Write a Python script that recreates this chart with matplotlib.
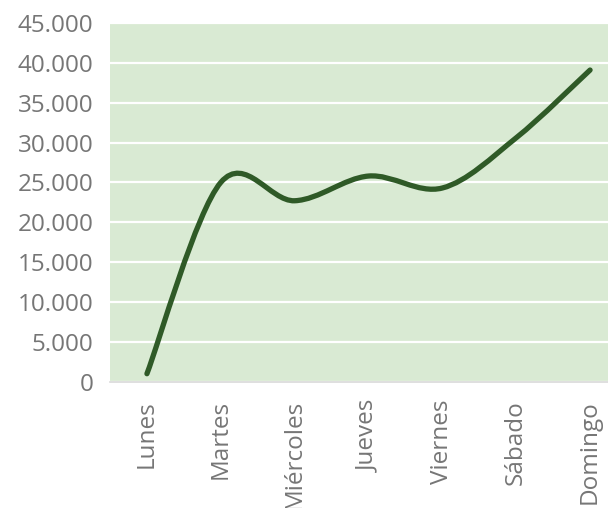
import matplotlib
matplotlib.use('Agg')
import matplotlib.pyplot as plt
from matplotlib.path import Path
from matplotlib.patches import PathPatch
from matplotlib.ticker import FuncFormatter, MultipleLocator

dias = ['Lunes', 'Martes', 'Miércoles', 'Jueves', 'Viernes', 'Sábado', 'Domingo']
ventas = [1000, 25000, 22700, 25800, 24300, 30600, 39100]

plt.rcParams['font.family'] = ['Open Sans', 'DejaVu Sans']


def smooth_path(xs, ys):
    # cubic bezier through every point, tangents from the neighbours (excel-style smoothing)
    pts = list(zip(xs, ys))
    verts = [pts[0]]
    codes = [Path.MOVETO]
    for i in range(len(pts) - 1):
        p0 = pts[max(i - 1, 0)]
        p1 = pts[i]
        p2 = pts[i + 1]
        p3 = pts[min(i + 2, len(pts) - 1)]
        c1 = (p1[0] + (p2[0] - p0[0]) / 6, p1[1] + (p2[1] - p0[1]) / 6)
        c2 = (p2[0] - (p3[0] - p1[0]) / 6, p2[1] - (p3[1] - p1[1]) / 6)
        verts += [c1, c2, p2]
        codes += [Path.CURVE4] * 3
    return Path(verts, codes)


fig = plt.figure(figsize=(6.08, 5.08), dpi=100)
ax = fig.add_axes([110 / 608, 1 - 381.7 / 508, 517 / 608, 358.7 / 508])
ax.set_facecolor('#d9ead3')

x = list(range(len(dias)))
ax.add_patch(PathPatch(smooth_path(x, ventas), facecolor='none', edgecolor='#2f5a27',
                       linewidth=3.8, capstyle='round', joinstyle='round', zorder=3))

ax.set_xlim(-0.5, len(dias) - 0.5)
ax.set_ylim(0, 45000)
ax.yaxis.set_major_locator(MultipleLocator(5000))
ax.yaxis.set_major_formatter(FuncFormatter(lambda v, _: f'{int(v):,}'.replace(',', '.')))
ax.set_xticks(x)
ax.set_xticklabels(dias, rotation=90)

ax.grid(axis='y', color='white', linewidth=1.6)
ax.set_axisbelow(True)
for side in ('top', 'right', 'left'):
    ax.spines[side].set_visible(False)
ax.spines['bottom'].set_color('#d9d9d9')
ax.spines['bottom'].set_linewidth(1.2)
ax.spines['bottom'].set_zorder(4)
ax.tick_params(axis='both', length=0, labelsize=17.5, labelcolor='#767676')
ax.tick_params(axis='y', pad=12)
ax.tick_params(axis='x', pad=13)

fig.savefig('out.png', dpi=100)
